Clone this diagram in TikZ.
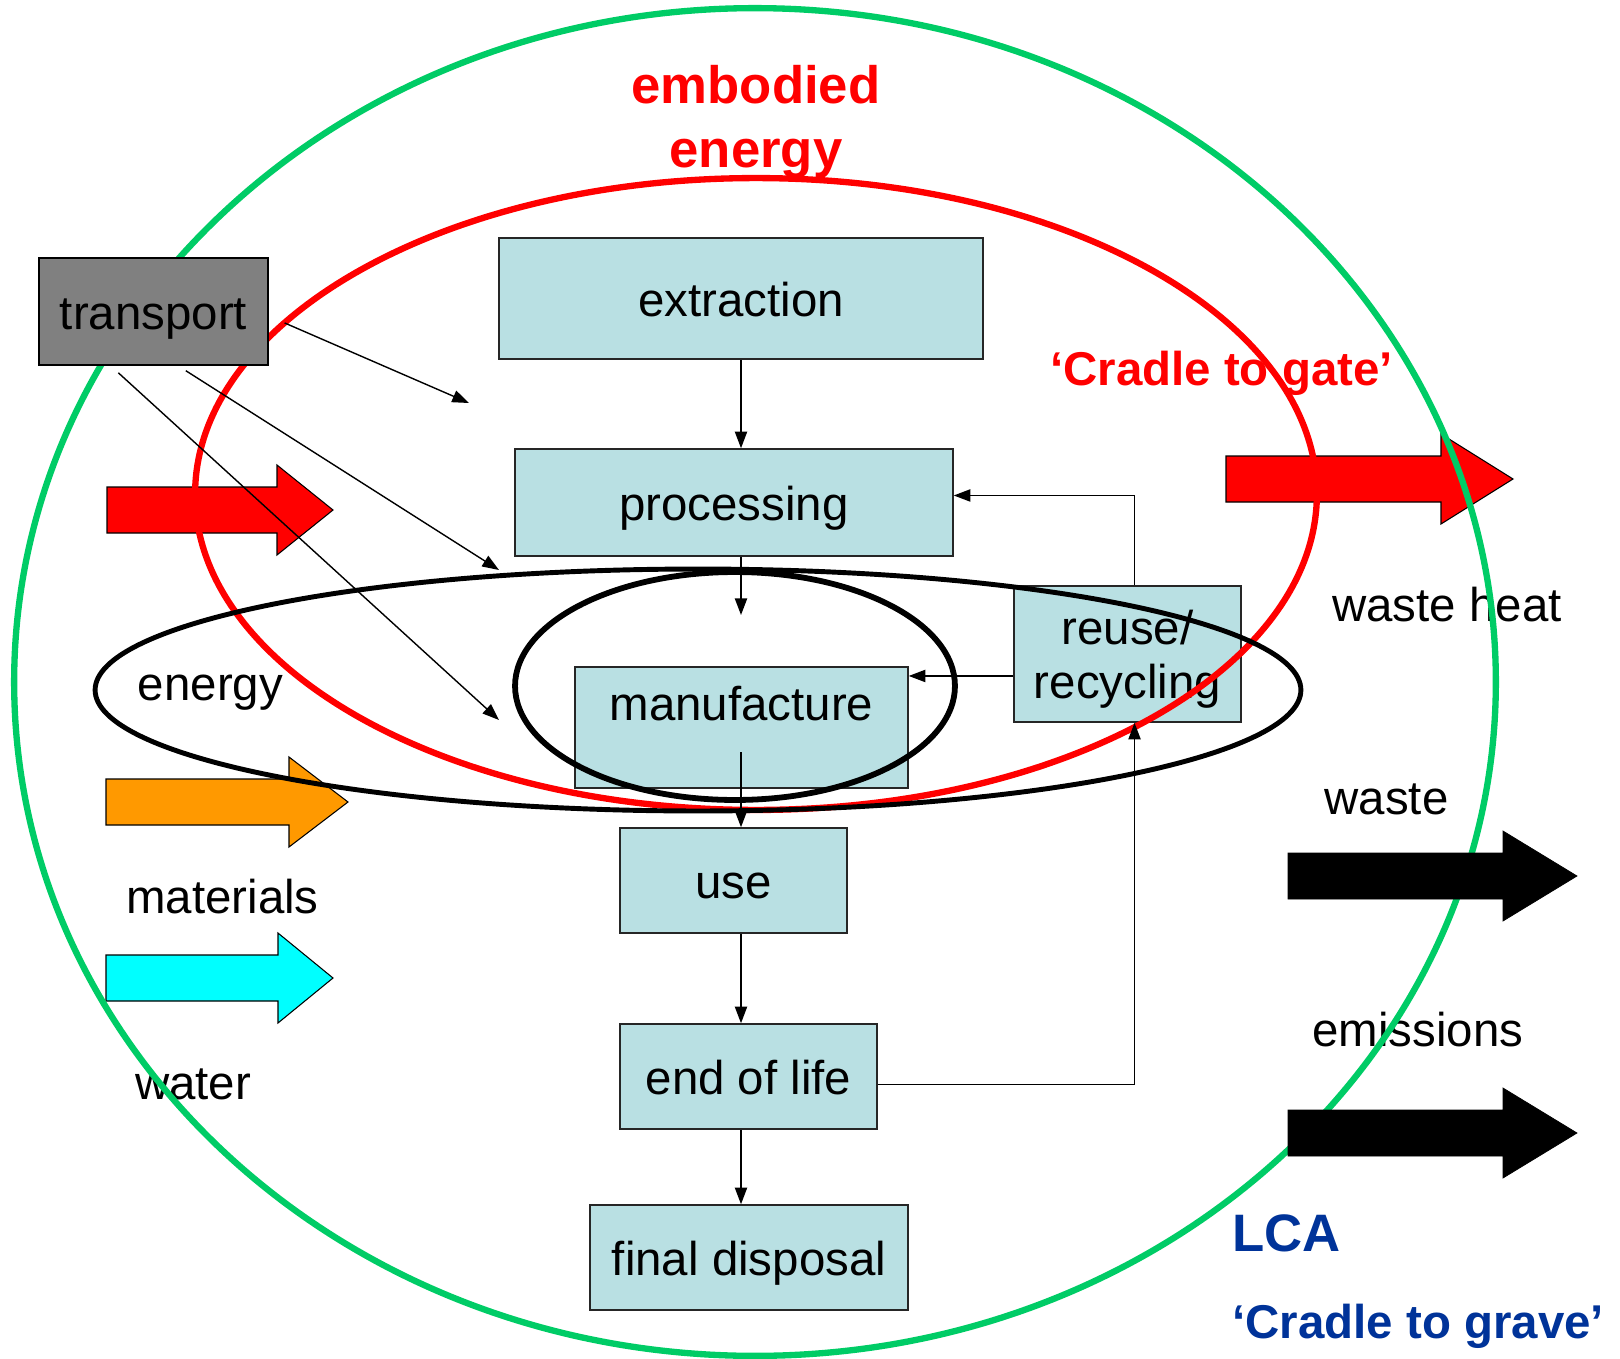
\documentclass[tikz,border=0pt]{standalone}
\usepackage{fontspec}
\setmainfont{Liberation Sans}
\usetikzlibrary{arrows.meta,shapes.geometric}
\definecolor{lcagreen}{HTML}{00CC66}
\definecolor{gatered}{HTML}{FF0000}
\definecolor{stagefill}{HTML}{B9E0E3}
\definecolor{transgray}{HTML}{808080}
\definecolor{matorange}{HTML}{FF9900}
\definecolor{watercyan}{HTML}{00FFFF}
\definecolor{lcablue}{HTML}{003399}

% block arrow: style, tail x, centre y, head start x, tip x
\newcommand{\fatarrow}[5]{%
  \draw[#1] (#2,#3-23) -- (#4,#3-23) -- (#4,#3-45) -- (#5,#3)
    -- (#4,#3+45) -- (#4,#3+23) -- (#2,#3+23) -- cycle;}

\begin{document}
\begin{tikzpicture}[
  x=0.02cm, y=-0.02cm,
  font=\fontsize{27}{31}\selectfont,
  stage/.style={draw=black!85, line width=0.9pt, fill=stagefill, align=center, inner sep=0pt},
  oneline/.style={text height=24pt, text depth=3pt},
  ring/.style={ellipse, inner sep=0pt, fill=none},
  flow/.style={-{Triangle[length=9.5pt,width=7pt]}, line width=0.8pt},
  fat/.style={draw=black, line width=0.6pt},
  tag/.style={inner sep=0pt, text height=24pt, text depth=3pt},
  bigtag/.style={inner sep=0pt, font=\bfseries\fontsize{30}{36}\selectfont, align=center}
]
\useasboundingbox (0,0) rectangle (1620,1359);

% inputs and waste heat
\fatarrow{fat, fill=gatered}{107}{510}{277}{333}
\fatarrow{fat, fill=matorange}{106}{802}{289}{348}
\fatarrow{fat, fill=watercyan}{106}{978}{278}{333}
\fatarrow{fat, fill=gatered}{1226}{479}{1441}{1513}

% life cycle stages
\node[stage, oneline, minimum width=9.68cm, minimum height=2.42cm] (ext) at (741,298.5) {extraction};
\node[stage, oneline, minimum width=8.76cm, minimum height=2.14cm] (proc) at (734,502.5) {processing};
\node[stage, minimum width=6.66cm, minimum height=2.42cm, text height=19pt, text depth=27pt] (mfg) at (741.5,727.5) {manufacture};
\node[stage, minimum width=4.54cm, minimum height=2.72cm, text height=58pt, text depth=7pt] (reuse) at (1127.5,654) {reuse/\\recycling};
\node[stage, oneline, minimum width=4.54cm, minimum height=2.1cm] (use) at (733.5,880.5) {use};
\node[stage, oneline, minimum width=5.14cm, minimum height=2.1cm] (eol) at (748.5,1076.5) {end of life};
\node[stage, oneline, minimum width=6.36cm, minimum height=2.1cm] (fd) at (749,1257.5) {final disposal};

% labels
\node[tag] (lenergy) at (210.5,682) {energy};
\node[tag] (lmat) at (222.5,895) {materials};
\node[tag] (lwater) at (193,1081) {water};
\node[tag] (lheat) at (1447,603) {waste heat};
\node[tag] (lwaste) at (1386.5,796) {waste};
\node[tag] (lemis) at (1418,1028) {emissions};

% boundaries
\node[ring, draw=gatered, line width=3.6pt, minimum width=22.44cm, minimum height=12.64cm] (gate) at (756,494) {};
\node[ring, draw=black, line width=2.8pt, minimum width=24.12cm, minimum height=4.84cm] (ering) at (698,690) {};
\node[ring, draw=black, line width=3.3pt, minimum width=8.8cm, minimum height=4.56cm] (mring) at (735,686) {};
\node[ring, draw=lcagreen, line width=3.6pt, minimum width=29.64cm, minimum height=26.96cm] (lca) at (755,682) {};

\node[bigtag, text=gatered] (embodied) at (756,122) {embodied\\energy};
\node[bigtag, text=gatered, font=\bfseries\fontsize{27}{32}\selectfont] (c2gate) at (1221.5,373) {‘Cradle to gate’};
\node[bigtag, text=lcablue, anchor=west] (lcatitle) at (1232,1233) {LCA};
\node[bigtag, text=lcablue, anchor=west, font=\bfseries\fontsize{27}{32}\selectfont] (c2grave) at (1232,1326) {‘Cradle to grave’};

% transport
\node[stage, oneline, fill=transgray, draw=black, minimum width=4.58cm, minimum height=2.14cm] (trans) at (153.5,311.5) {transport};
\coordinate (t1) at (469,403);
\coordinate (t2) at (499,570);
\coordinate (t3) at (499,720);
\draw[flow] ([shift={(9pt,-6.5pt)}]trans.east) -- (t1);
\draw[flow] ([shift={(18.4pt,-2.8pt)}]trans.south) -- (t2);
\draw[flow] ([shift={(-20pt,-4pt)}]trans.south) -- (t3);

% flows
\coordinate (pout) at (741,615);
\coordinate (mout) at (741,752);
\draw[flow] (ext.south) -- (ext.south |- proc.north);
\draw[flow] (proc.south -| ext) -- (pout);
\draw[flow] (mout) -- (use.north -| ext);
\draw[flow] (use.south -| ext) -- (eol.north -| ext);
\draw[flow] (eol.south -| ext) -- (fd.north -| ext);
\draw[flow] ([yshift=-4.5pt]eol.east) -| ([xshift=4pt]reuse.south);
\draw[flow] ([xshift=4pt]reuse.north) |- ([yshift=4pt]proc.east);
\draw[flow] ([yshift=-12.5pt]reuse.west) -- ([yshift=-12.5pt]reuse.west -| mfg.east);

% outputs
\fatarrow{draw=black, fill=black}{1288}{876}{1503}{1577}
\fatarrow{draw=black, fill=black}{1288}{1133}{1503}{1577}
\end{tikzpicture}
\end{document}
